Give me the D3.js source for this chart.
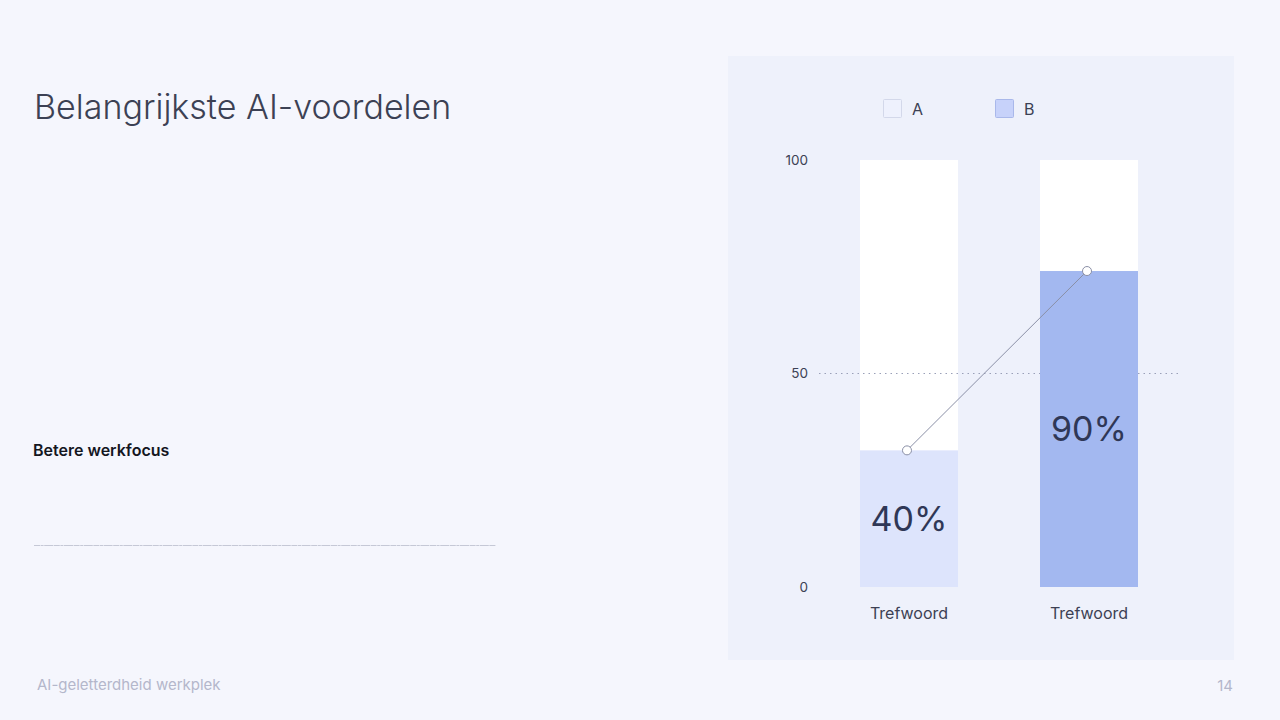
<!DOCTYPE html>
<html>
<head>
<meta charset="utf-8">
<script src="https://cdn.jsdelivr.net/npm/d3@7"></script>
<style>
  html, body { margin: 0; padding: 0; background: #f5f6fd; }
  svg { display: block; font-family: Inter, "Noto Sans", sans-serif; }
</style>
</head>
<body>
<svg id="chart" width="1280" height="720"></svg>
<script>
// chart data
const categories = ["Trefwoord", "Trefwoord"];
const seriesNames = ["A", "B"];
const barValues = [32, 74];
const barLabels = ["40%", "90%"];
const yTicks = [0, 50, 100];

const seriesColor = { A: "#dde4fc", B: "#a3b8f0" };
const legendColor = { A: "#eef1fd", B: "#c7d2fa" };
const legendStroke = { A: "#d3d8ea", B: "#a9b8ea" };

const svg = d3.select("#chart");

// page texts
svg.append("text")
  .attr("x", 34).attr("y", 119)
  .attr("font-size", 34).attr("font-weight", 300)
  .attr("fill", "#3c4154")
  .text("Belangrijkste AI-voordelen");

svg.append("text")
  .attr("x", 33).attr("y", 456)
  .attr("font-size", 16).attr("font-weight", 600)
  .attr("fill", "#14161f")
  .text("Betere werkfocus");

svg.append("line")
  .attr("x1", 34).attr("x2", 496)
  .attr("y1", 545.5).attr("y2", 545.5)
  .attr("stroke", "#b9bdcb").attr("stroke-width", 0.8)
  .attr("stroke-dasharray", "6 0.6 3 0.6 9 0.6");

svg.append("text")
  .attr("x", 37).attr("y", 690)
  .attr("font-size", 15).attr("fill", "#b4b7cb")
  .text("AI-geletterdheid werkplek");

svg.append("text")
  .attr("x", 1233).attr("y", 691)
  .attr("text-anchor", "end")
  .attr("font-size", 15).attr("fill", "#b4b7cb")
  .text("14");

// chart panel
svg.append("rect")
  .attr("x", 728).attr("y", 56)
  .attr("width", 506).attr("height", 604)
  .attr("fill", "#eef1fb");

const x = d3.scaleBand()
  .domain(d3.range(categories.length))
  .range([770, 1228])
  .paddingInner(0.4556)
  .paddingOuter(0.5);

const y = d3.scaleLinear().domain([0, 100]).range([587, 160]);

// y axis labels
const yAxis = svg.append("g")
  .attr("transform", "translate(808,0)")
  .call(d3.axisLeft(y).tickValues(yTicks).tickSize(0).tickPadding(0));
yAxis.select(".domain").remove();
yAxis.selectAll("text")
  .attr("font-family", "Inter, 'Noto Sans', sans-serif")
  .attr("font-size", 13.5).attr("fill", "#3c4154");

// background (full) bars
svg.selectAll(".bg-bar")
  .data(barValues)
  .join("rect")
  .attr("class", "bg-bar")
  .attr("x", (d, i) => x(i))
  .attr("width", x.bandwidth())
  .attr("y", y(100))
  .attr("height", y(0) - y(100))
  .attr("fill", "#ffffff");

// gridline at 50
svg.append("line")
  .attr("x1", 819).attr("x2", 1180)
  .attr("y1", y(50)).attr("y2", y(50))
  .attr("stroke", "#9aa0b8").attr("stroke-width", 1)
  .attr("stroke-dasharray", "1.5 4");

// value bars
svg.selectAll(".bar")
  .data(barValues)
  .join("rect")
  .attr("class", "bar")
  .attr("x", (d, i) => x(i))
  .attr("width", x.bandwidth())
  .attr("y", (d) => y(d))
  .attr("height", (d) => y(0) - y(d))
  .attr("fill", (d, i) => seriesColor[seriesNames[i]]);

// bar labels
svg.selectAll(".bar-label")
  .data(barValues)
  .join("text")
  .attr("class", "bar-label")
  .attr("x", (d, i) => x(i) + x.bandwidth() / 2)
  .attr("y", (d) => (y(d) + y(0)) / 2)
  .attr("dy", "0.35em")
  .attr("text-anchor", "middle")
  .attr("font-size", 34).attr("fill", "#2f3756")
  .text((d, i) => barLabels[i]);

// connecting line
const line = d3.line()
  .x((d, i) => x(i) + x.bandwidth() / 2 - 2)
  .y((d) => y(d));
svg.append("path")
  .datum(barValues)
  .attr("d", line)
  .attr("fill", "none")
  .attr("stroke", "#8a8fa6").attr("stroke-width", 1);

svg.selectAll(".dot")
  .data(barValues)
  .join("circle")
  .attr("class", "dot")
  .attr("cx", (d, i) => x(i) + x.bandwidth() / 2 - 2)
  .attr("cy", (d) => y(d))
  .attr("r", 4.5)
  .attr("fill", "#ffffff")
  .attr("stroke", "#8a8fa6").attr("stroke-width", 1);

// category labels
svg.selectAll(".cat-label")
  .data(categories)
  .join("text")
  .attr("class", "cat-label")
  .attr("x", (d, i) => x(i) + x.bandwidth() / 2)
  .attr("y", 619)
  .attr("text-anchor", "middle")
  .attr("font-size", 16).attr("fill", "#3c4154")
  .text((d) => d);

// legend
const legend = svg.selectAll(".legend")
  .data(seriesNames)
  .join("g")
  .attr("class", "legend")
  .attr("transform", (d, i) => "translate(" + (883 + i * 112) + ",99)");
legend.append("rect")
  .attr("x", 0.5).attr("y", 0.5)
  .attr("width", 18).attr("height", 18)
  .attr("rx", 1)
  .attr("fill", (d) => legendColor[d])
  .attr("stroke", (d) => legendStroke[d]);
legend.append("text")
  .attr("x", 29).attr("y", 10)
  .attr("dy", "0.35em")
  .attr("font-size", 16).attr("fill", "#3c4154")
  .text((d) => d);
</script>
</body>
</html>
